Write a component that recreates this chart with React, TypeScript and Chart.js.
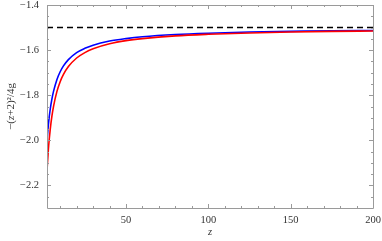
import React, { useEffect, useRef } from "react";
import { Chart, registerables } from "chart.js";

Chart.register(...registerables);

const zValues = [2, 3, 4, 5, 6, 8, 10, 12, 15, 20, 25, 30, 40, 50, 60, 80, 100, 125, 150, 175, 200];
const blueValues = [-2.0, -1.919, -1.86, -1.816, -1.782, -1.731, -1.696, -1.67, -1.642, -1.611, -1.592, -1.578, -1.56, -1.549, -1.541, -1.531, -1.525, -1.52, -1.517, -1.514, -1.513];
const redValues = [-2.133, -2.025, -1.949, -1.892, -1.848, -1.784, -1.74, -1.708, -1.673, -1.635, -1.611, -1.594, -1.572, -1.558, -1.549, -1.537, -1.53, -1.524, -1.52, -1.517, -1.515];
const asymptote = -1.5;
const xRange = [2, 200];
const yRange = [-2.3, -1.4];
const xMajorTicks = [50, 100, 150, 200];
const xMinorTicks = [10, 20, 30, 40, 60, 70, 80, 90, 110, 120, 130, 140, 160, 170, 180, 190];
const yMajorTicks = [-2.2, -2.0, -1.8, -1.6, -1.4];
const yMinorTicks = [-2.25, -2.15, -2.1, -2.05, -1.95, -1.9, -1.85, -1.75, -1.7, -1.65, -1.55, -1.5, -1.45];

const fmt = (v: number) => (v < 0 ? "\u2212" : "") + Math.abs(v).toFixed(1);

const framePlugin = {
  id: "frame",
  afterDatasetsDraw(chart: any) {
    const ctx = chart.ctx;
    const a = chart.chartArea;
    const xs = chart.scales.x;
    const ys = chart.scales.y;
    ctx.save();
    ctx.strokeStyle = "#9a9a9a";
    ctx.lineWidth = 1;
    ctx.beginPath();
    ctx.rect(Math.round(a.left) + 0.5, Math.round(a.top) + 0.5, Math.round(a.right - a.left), Math.round(a.bottom - a.top));
    ctx.stroke();
    const tick = (len: number, vals: number[], axis: "x" | "y") => {
      ctx.beginPath();
      vals.forEach((v) => {
        if (axis === "x") {
          const px = Math.round(xs.getPixelForValue(v)) + 0.5;
          ctx.moveTo(px, a.bottom);
          ctx.lineTo(px, a.bottom - len);
          ctx.moveTo(px, a.top);
          ctx.lineTo(px, a.top + len);
        } else {
          const py = Math.round(ys.getPixelForValue(v)) + 0.5;
          ctx.moveTo(a.left, py);
          ctx.lineTo(a.left + len, py);
          ctx.moveTo(a.right, py);
          ctx.lineTo(a.right - len, py);
        }
      });
      ctx.stroke();
    };
    tick(4, xMajorTicks, "x");
    tick(2, xMinorTicks, "x");
    tick(4, yMajorTicks, "y");
    tick(2, yMinorTicks, "y");

    ctx.fillStyle = "#333";
    ctx.font = "10.5px 'Liberation Serif', serif";
    ctx.textAlign = "right";
    ctx.textBaseline = "middle";
    yMajorTicks.forEach((v) => {
      ctx.fillText(fmt(v), a.left - 8, ys.getPixelForValue(v));
    });
    ctx.textAlign = "center";
    ctx.textBaseline = "top";
    xMajorTicks.forEach((v) => {
      ctx.fillText(String(v), xs.getPixelForValue(v), a.bottom + 7);
    });
    ctx.font = "italic 10.5px 'Liberation Serif', serif";
    ctx.fillText("z", (a.left + a.right) / 2, a.bottom + 19);

    // y title
    ctx.translate(11, (a.top + a.bottom) / 2);
    ctx.rotate(-Math.PI / 2);
    const parts: [string, string][] = [
      ["\u2212(", "11px 'Liberation Serif', serif"],
      ["z", "italic 11px 'Liberation Serif', serif"],
      ["+2)\u00b2/4g", "11px 'Liberation Serif', serif"],
    ];
    let total = 0;
    parts.forEach(([t, f]) => {
      ctx.font = f;
      total += ctx.measureText(t).width;
    });
    let x = -total / 2;
    ctx.textAlign = "left";
    ctx.textBaseline = "middle";
    parts.forEach(([t, f]) => {
      ctx.font = f;
      ctx.fillText(t, x, 0);
      x += ctx.measureText(t).width;
    });
    ctx.restore();
  },
};

export default function App() {
  const ref = useRef<HTMLCanvasElement>(null);
  useEffect(() => {
    document.body.style.margin = "0";
    const chart = new Chart(ref.current as HTMLCanvasElement, {
      type: "line",
      data: {
        datasets: [
          {
            data: [{ x: xRange[0], y: asymptote }, { x: xRange[1], y: asymptote }],
            borderColor: "#000",
            borderWidth: 1.5,
            borderDash: [6, 4],
            pointRadius: 0,
          },
          {
            data: zValues.map((z, i) => ({ x: z, y: redValues[i] })),
            borderColor: "#ff0000",
            borderWidth: 1.6,
            pointRadius: 0,
            cubicInterpolationMode: "monotone",
          },
          {
            data: zValues.map((z, i) => ({ x: z, y: blueValues[i] })),
            borderColor: "#0000ff",
            borderWidth: 1.6,
            pointRadius: 0,
            cubicInterpolationMode: "monotone",
          },
        ],
      },
      options: {
        animation: false,
        responsive: false,
        maintainAspectRatio: false,
        layout: { padding: { left: 47, right: 9, top: 5, bottom: 33 } },
        plugins: { legend: { display: false }, tooltip: { enabled: false } },
        scales: {
          x: { type: "linear", min: xRange[0], max: xRange[1], display: false },
          y: { type: "linear", min: yRange[0], max: yRange[1], display: false },
        },
      },
      plugins: [framePlugin],
    } as any);
    return () => chart.destroy();
  }, []);
  return (
    <div style={{ position: "relative", width: 382, height: 241, background: "#fff" }}>
      <canvas ref={ref} width={382} height={241} style={{ display: "block" }} />
    </div>
  );
}
